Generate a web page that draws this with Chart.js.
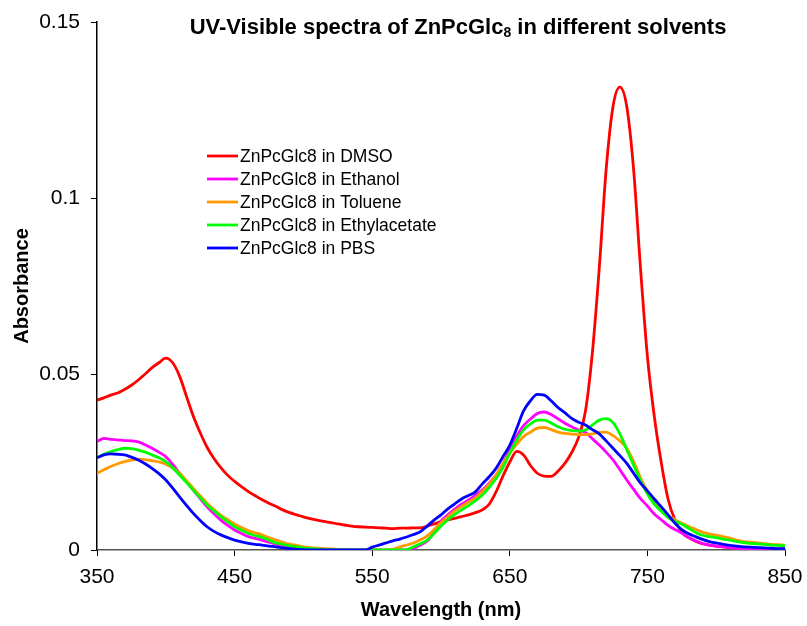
<!DOCTYPE html>
<html><head><meta charset="utf-8">
<script src="https://cdn.jsdelivr.net/npm/chart.js@4/dist/chart.umd.min.js"></script>
<style>html,body{margin:0;padding:0;background:#fff}#wrap{width:807px;height:626px}</style>
</head><body><div id="wrap"><canvas id="c" width="807" height="626"></canvas></div>
<script>
const wavelengths = [350,355,360,365,370,375,380,385,390,395,400,405,410,415,420,425,430,435,440,445,450,455,460,465,470,475,480,485,490,495,500,505,510,515,520,525,530,535,540,545,550,555,560,565,570,575,580,585,590,595,600,605,610,615,620,625,630,635,640,645,650,655,660,665,670,675,680,685,690,695,700,705,710,715,720,725,730,735,740,745,750,755,760,765,770,775,780,785,790,795,800,805,810,815,820,825,830,835,840,845,850];

const dmso = [
0.0426,0.0432,0.0440,0.0446,0.0456,0.0468,0.0483,0.0500,0.0518,0.0532,
0.0545,0.0532,0.0494,0.0437,0.0380,0.0333,0.0292,0.0260,0.0234,0.0212,
0.0195,0.0180,0.0166,0.0154,0.0143,0.0133,0.0124,0.0114,0.0106,0.0100,
0.0094,0.0089,0.0085,0.0081,0.0078,0.0074,0.0071,0.0068,0.0066,0.0065,
0.0064,0.0063,0.0062,0.0061,0.0062,0.0062,0.0063,0.0063,0.0068,0.0074,
0.0081,0.0086,0.0090,0.0095,0.0100,0.0106,0.0114,0.0130,0.0165,0.0210,
0.0250,0.0280,0.0270,0.0240,0.0218,0.0210,0.0209,0.0224,0.0246,0.0277,
0.0320,0.0395,0.0560,0.0800,0.1080,0.1260,0.1315,0.1260,0.1080,0.0800,
0.0550,0.0380,0.0250,0.0145,0.0085,0.0050,0.0035,0.0025,0.0018,0.0014,
0.0011,0.0009,0.0007,0.0006,0.0005,0.0004,0.0004,0.0003,0.0003,0.0003,
0.0003];

const ethanol = [
0.0308,0.0317,0.0314,0.0313,0.0311,0.0310,0.0307,0.0299,0.0289,0.0278,
0.0265,0.0243,0.0218,0.0194,0.0170,0.0146,0.0123,0.0103,0.0085,0.0070,
0.0057,0.0047,0.0038,0.0033,0.0028,0.0022,0.0017,0.0013,0.0009,0.0006,
0.0004,0.0002,0.0001,0.0001,0,0,0,0,0,0,
0,0,0,0,0,0,0.0005,0.0014,0.0026,0.0050,
0.0082,0.0100,0.0116,0.0130,0.0142,0.0155,0.0170,0.0190,0.0213,0.0244,
0.0287,0.0323,0.0353,0.0372,0.0388,0.0392,0.0385,0.0373,0.0360,0.0350,
0.0341,0.0334,0.0316,0.0298,0.0278,0.0256,0.0228,0.0199,0.0172,0.0146,
0.0125,0.0102,0.0086,0.0070,0.0058,0.0048,0.0036,0.0026,0.0018,0.0014,
0.0011,0.0009,0.0007,0.0005,0.0004,0.0003,0.0002,0.0002,0.0001,0.0001,
0.0001];

const toluene = [
0.0218,0.0228,0.0237,0.0245,0.0251,0.0255,0.0258,0.0257,0.0254,0.0250,
0.0244,0.0233,0.0218,0.0197,0.0175,0.0154,0.0133,0.0115,0.0099,0.0086,
0.0074,0.0064,0.0055,0.0049,0.0043,0.0035,0.0028,0.0022,0.0017,0.0013,
0.0009,0.0007,0.0005,0.0004,0.0003,0.0002,0.0001,0,0,0,
0,0,0,0.0002,0.0009,0.0014,0.0020,0.0029,0.0040,0.0058,
0.0078,0.0095,0.0111,0.0124,0.0136,0.0148,0.0166,0.0187,0.0212,0.0246,
0.0275,0.0300,0.0322,0.0335,0.0346,0.0348,0.0342,0.0335,0.0331,0.0329,
0.0328,0.0328,0.0330,0.0334,0.0335,0.0325,0.0310,0.0289,0.0251,0.0205,
0.0167,0.0135,0.0115,0.0098,0.0086,0.0076,0.0067,0.0059,0.0051,0.0046,
0.0042,0.0038,0.0034,0.0028,0.0024,0.0022,0.0020,0.0018,0.0016,0.0015,
0.0014];

const ethylacetate = [
0.0262,0.0272,0.0279,0.0285,0.0289,0.0288,0.0284,0.0278,0.0270,0.0262,
0.0251,0.0234,0.0213,0.0192,0.0170,0.0149,0.0128,0.0111,0.0095,0.0080,
0.0066,0.0056,0.0047,0.0041,0.0036,0.0028,0.0020,0.0016,0.0012,0.0009,
0.0006,0.0004,0.0003,0.0001,0,0,0,0,0,0,
0,0,0,0,0,0.0001,0.0009,0.0018,0.0028,0.0047,
0.0068,0.0086,0.0101,0.0114,0.0126,0.0140,0.0156,0.0178,0.0203,0.0234,
0.0275,0.0312,0.0341,0.0358,0.0369,0.0369,0.0361,0.0350,0.0343,0.0339,
0.0338,0.0341,0.0355,0.0369,0.0373,0.0362,0.0330,0.0285,0.0241,0.0197,
0.0160,0.0130,0.0111,0.0092,0.0082,0.0073,0.0062,0.0050,0.0042,0.0038,
0.0035,0.0031,0.0028,0.0024,0.0021,0.0019,0.0017,0.0016,0.0014,0.0013,
0.0012];

const pbs = [
0.0262,0.0270,0.0273,0.0272,0.0270,0.0264,0.0256,0.0245,0.0232,0.0217,
0.0199,0.0176,0.0151,0.0127,0.0104,0.0084,0.0066,0.0053,0.0043,0.0035,
0.0028,0.0023,0.0019,0.0016,0.0014,0.0011,0.0009,0.0006,0.0004,0.0002,
0.0001,0,0,0,0,0,0,0,0,0,
0.0008,0.0014,0.0020,0.0026,0.0031,0.0037,0.0044,0.0052,0.0068,0.0085,
0.0100,0.0117,0.0131,0.0145,0.0155,0.0165,0.0188,0.0208,0.0232,0.0265,
0.0298,0.0345,0.0395,0.0424,0.0442,0.0440,0.0424,0.0405,0.0390,0.0374,
0.0363,0.0355,0.0342,0.0330,0.0310,0.0289,0.0268,0.0246,0.0218,0.0190,
0.0168,0.0145,0.0123,0.0100,0.0076,0.0058,0.0046,0.0038,0.0030,0.0024,
0.0020,0.0016,0.0013,0.0011,0.0009,0.0008,0.0007,0.0006,0.0005,0.0004,
0.0004];

const seriesNames = ["ZnPcGlc8 in DMSO","ZnPcGlc8 in Ethanol","ZnPcGlc8 in Toluene","ZnPcGlc8 in Ethylacetate","ZnPcGlc8 in PBS"];
const seriesColors = ["#FF0000","#FF00FF","#FF9900","#00FF00","#0000FF"];
const seriesValues = [dmso, ethanol, toluene, ethylacetate, pbs];
const xRange = [350, 850];
const yRange = [0, 0.15];
const titleParts = ["UV-Visible spectra of ZnPcGlc", "8", " in different solvents"];
const xTitle = "Wavelength (nm)";
const yTitle = "Absorbance";

const FONT = '"Liberation Sans", Arial, sans-serif';

const overlay = {
  id: 'overlay',
  beforeDraw(chart) {
    const ctx = chart.ctx;
    ctx.save();
    ctx.fillStyle = '#fff';
    ctx.fillRect(0, 0, chart.width, chart.height);
    ctx.restore();
  },
  afterDraw(chart) {
    const ctx = chart.ctx;
    ctx.save();
    ctx.fillStyle = '#000';
    ctx.textBaseline = 'alphabetic';
    const big = 'bold 22px ' + FONT;
    const small = 'bold 14px ' + FONT;
    ctx.font = big;
    const w1 = ctx.measureText(titleParts[0]).width;
    const w3 = ctx.measureText(titleParts[2]).width;
    ctx.font = small;
    const w2 = ctx.measureText(titleParts[1]).width;
    let x = 458 - (w1 + w2 + w3) / 2;
    const y = 34;
    ctx.font = big; ctx.fillText(titleParts[0], x, y); x += w1;
    ctx.font = small; ctx.fillText(titleParts[1], x, y + 3); x += w2;
    ctx.font = big; ctx.fillText(titleParts[2], x, y);
    // legend
    ctx.font = '17.5px ' + FONT;
    ctx.textBaseline = 'middle';
    seriesNames.forEach((name, i) => {
      const ly = 156 + 23 * i;
      ctx.strokeStyle = seriesColors[i];
      ctx.lineWidth = 2.8;
      ctx.beginPath(); ctx.moveTo(207, ly); ctx.lineTo(238, ly); ctx.stroke();
      ctx.fillStyle = '#000';
      ctx.fillText(name, 240, ly + 1);
    });
    ctx.restore();
  }
};

new Chart(document.getElementById('c'), {
  type: 'line',
  data: {
    datasets: seriesValues.map((vals, i) => ({
      label: seriesNames[i],
      data: wavelengths.map((w, j) => ({x: w, y: vals[j]})),
      borderColor: seriesColors[i],
      backgroundColor: seriesColors[i],
      borderWidth: 2.8,
      pointRadius: 0,
      tension: 0,
      cubicInterpolationMode: 'monotone',
      fill: false,
      order: seriesNames.length - 1 - i
    }))
  },
  options: {
    responsive: false,
    animation: false,
    devicePixelRatio: 1,
    layout: { padding: { top: 22, right: 22, left: 0, bottom: 0 } },
    plugins: { legend: { display: false }, tooltip: { enabled: false }, title: { display: false } },
    scales: {
      x: {
        type: 'linear', min: xRange[0], max: xRange[1],
        afterFit(s) { s.height = 76; s.paddingLeft = 0; s.paddingRight = 0; },
        grid: { display: true, drawOnChartArea: false, drawTicks: true, tickLength: 6, color: '#000', lineWidth: 1 },
        border: { display: true, color: '#555', width: 1.5 },
        ticks: { stepSize: 100, color: '#000', font: { size: 21, family: FONT }, padding: 9, maxRotation: 0 },
        title: { display: true, text: xTitle, color: '#000', font: { size: 20, weight: 'bold', family: FONT }, padding: { top: 0, bottom: 4 } }
      },
      y: {
        type: 'linear', min: yRange[0], max: yRange[1],
        afterFit(s) { s.width = 97; s.paddingTop = 0; s.paddingBottom = 0; },
        grid: { display: true, drawOnChartArea: false, drawTicks: true, tickLength: 6, color: '#000', lineWidth: 1 },
        border: { display: true, color: '#000', width: 1.5 },
        ticks: { stepSize: 0.05, color: '#000', font: { size: 21, family: FONT }, padding: 11,
          callback: v => (Math.round(v * 100) / 100).toString() },
        title: { display: true, text: yTitle, color: '#000', font: { size: 20, weight: 'bold', family: FONT }, padding: { top: 10, bottom: 0 } }
      }
    }
  },
  plugins: [overlay]
});
</script></body></html>
